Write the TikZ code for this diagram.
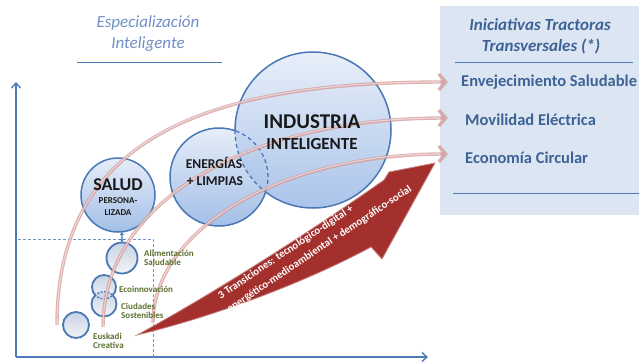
\documentclass[tikz,border=0pt]{standalone}
\usepackage{fontspec}
\setmainfont{Carlito}
\usetikzlibrary{arrows.meta}
\definecolor{axisblue}{HTML}{4F7AB8}
\definecolor{titleblue}{HTML}{6F8FC6}
\definecolor{darkblue}{HTML}{3D6296}
\definecolor{boxfill}{HTML}{DCE6F2}
\definecolor{circtop}{HTML}{E6EDF8}
\definecolor{circbot}{HTML}{A3BFE8}
\definecolor{smalltop}{HTML}{C9D3E4}
\definecolor{smallbot}{HTML}{F2F3F6}
\definecolor{borderblue}{HTML}{4A78B4}
\definecolor{olivetxt}{HTML}{5C7030}
\definecolor{arcpink}{HTML}{D49896}
\definecolor{arcinner}{HTML}{F6E6E6}
\definecolor{arrowred}{HTML}{A3302C}
\definecolor{arrowedge}{HTML}{C98280}
\begin{document}
\begin{tikzpicture}[x=1pt,y=-1pt,
  bigcirc/.style={circle, inner sep=0pt, top color=circtop, bottom color=circbot},
  smallcirc/.style={circle, inner sep=0pt, top color=smalltop, bottom color=smallbot},
  bord/.style={draw=borderblue, line width=1.5pt},
  sbord/.style={draw=borderblue, line width=1.8pt},
  dbord/.style={draw=borderblue, line width=1.3pt, dash pattern=on 4pt off 3pt},
  circtext/.style={font=\bfseries, text=black!90, inner sep=0pt},
  smalllbl/.style={font=\bfseries\fontsize{9}{10}\selectfont, text=olivetxt, anchor=west, inner sep=0pt, align=left},
  ititle/.style={font=\itshape\fontsize{17}{20}\selectfont, text=titleblue, inner sep=0pt},
  rtitle/.style={font=\bfseries\itshape\fontsize{17}{20}\selectfont, text=darkblue, inner sep=0pt},
  itemtxt/.style={font=\bfseries\fontsize{16.5}{19}\selectfont, text=darkblue, anchor=west, inner sep=0pt},
  rule/.style={draw=axisblue, line width=1pt},
  axisline/.style={draw=axisblue, line width=1.4pt, -{Straight Barb[length=5pt,width=9pt]}},
  dashline/.style={draw=axisblue!80, line width=1pt, dash pattern=on 3pt off 2pt},
  arcst/.style={draw=arcpink, line width=3.4pt, draw opacity=0.75, -{Straight Barb[length=7pt,width=16pt]}},
  arcin/.style={draw=arcinner, line width=1.1pt, draw opacity=0.7},
  arrowtxt/.style={font=\bfseries\fontsize{10.8}{12}\selectfont, text=white, inner sep=0pt, anchor=west, rotate=33.7},
  conn/.style={draw=borderblue, line width=1.2pt, {Latex[length=3pt,width=4.5pt]}-{Latex[length=3pt,width=4.5pt]}}
]
\useasboundingbox (0,0) rectangle (639,362);

% right box
\node[rectangle, fill=boxfill, minimum width=199pt, minimum height=209pt, anchor=north west, inner sep=0pt] (box) at (440,6) {};

% titles
\node[ititle] (sp1) at (148,23) {Especialización};
\node[ititle] (sp2) at (148,44) {Inteligente};
\draw[rule] (77,62) -- (222,62);

\node[rtitle] (it1) at (540,25) {Iniciativas Tractoras};
\node[rtitle] (it2) at (541,46) {Transversales (*)};
\draw[rule] (455,62) -- (633,62);
\node[itemtxt] (env) at (461,82) {Envejecimiento Saludable};
\node[itemtxt] (mov) at (465,120) {Movilidad Eléctrica};
\node[itemtxt] (eco) at (465,158) {Economía Circular};
\draw[rule] (453,193) -- (639,193);

% axes
\coordinate (origin) at (16,357);
\coordinate (ytop) at (16,82);
\coordinate (xend) at (428,357);
\draw[axisline] (origin) -- (ytop);
\draw[axisline] (origin) -- (xend);
\draw[dashline] (18,239) -- (153,239) -- (153,357);

% big circles
\node[bigcirc, minimum size=74pt] (salud) at (118,195) {};
\node[bigcirc, minimum size=98pt] (ener) at (219,177) {};
\node[bigcirc, minimum size=156pt, fill opacity=0.92] (ind) at (313,130) {};
\draw[bord] (salud.center) circle (37pt);
\begin{scope}[even odd rule]
  \clip (-20,-20) rectangle (660,380) (ind.center) circle (78pt);
  \draw[bord] (ener.center) circle (49pt);
\end{scope}
\begin{scope}[even odd rule]
  \clip (-20,-20) rectangle (660,380) (ener.center) circle (49pt);
  \draw[bord] (ind.center) circle (78pt);
\end{scope}
\begin{scope}
  \clip (ind.center) circle (78pt);
  \draw[dbord] (ener.center) circle (49pt);
\end{scope}
\begin{scope}
  \clip (ener.center) circle (49pt);
  \draw[dbord] (ind.center) circle (78pt);
\end{scope}

% small circles
\node[smallcirc, minimum size=31pt] (alim) at (122,258) {};
\node[smallcirc, minimum size=24pt] (ecoi) at (104,287) {};
\node[smallcirc, minimum size=25pt] (ciud) at (104,304) {};
\node[smallcirc, minimum size=26pt] (eusk) at (76,325) {};
\draw[sbord] (alim.center) circle (15.5pt);
\draw[sbord] (eusk.center) circle (13pt);
\begin{scope}[even odd rule]
  \clip (-20,-20) rectangle (660,380) (ciud.center) circle (12.5pt);
  \draw[sbord] (ecoi.center) circle (12pt);
\end{scope}
\begin{scope}[even odd rule]
  \clip (-20,-20) rectangle (660,380) (ecoi.center) circle (12pt);
  \draw[sbord] (ciud.center) circle (12.5pt);
\end{scope}
\begin{scope}
  \clip (ciud.center) circle (12.5pt);
  \draw[draw=borderblue, line width=1.3pt, dash pattern=on 2pt off 1.5pt] (ecoi.center) circle (12pt);
\end{scope}
\begin{scope}
  \clip (ecoi.center) circle (12pt);
  \draw[draw=borderblue, line width=1.3pt, dash pattern=on 2pt off 1.5pt] (ciud.center) circle (12.5pt);
\end{scope}
\draw[conn] (salud.-84) -- (alim.north);

% pink arcs
\coordinate (a1s) at (57,325);  \coordinate (a1e) at (448,82);
\coordinate (a2s) at (103,327); \coordinate (a2e) at (448,118);
\coordinate (a3s) at (153,323); \coordinate (a3e) at (448,154);
\draw[arcst] (a1s) .. controls (57,130) and (220,82) .. (a1e);
\draw[arcst] (a2s) .. controls (103,200) and (250,118) .. (a2e);
\draw[arcst] (a3s) .. controls (153,230) and (280,154) .. (a3e);
\draw[arcin] (a1s) .. controls (57,130) and (220,82) .. (440,82);
\draw[arcin] (a2s) .. controls (103,200) and (250,118) .. (440,118);
\draw[arcin] (a3s) .. controls (153,230) and (280,154) .. (440,154);

% circle labels
\node[circtext, font=\bfseries\fontsize{18}{20}\selectfont] (t_salud) at (118,185) {SALUD};
\node[circtext, font=\bfseries\fontsize{9}{10}\selectfont] (t_pers) at (118,201) {PERSONA-};
\node[circtext, font=\bfseries\fontsize{9}{10}\selectfont] (t_liz) at (118,213) {LIZADA};
\node[circtext, font=\bfseries\fontsize{13.5}{15}\selectfont] (t_ener) at (214,163) {ENERGÍAS};
\node[circtext, font=\bfseries\fontsize{13.5}{15}\selectfont] (t_limp) at (215,181) {+ LIMPIAS};
\node[circtext, font=\bfseries\fontsize{21}{23}\selectfont] (t_ind) at (312,122) {INDUSTRIA};
\node[circtext, font=\bfseries\fontsize{17}{19}\selectfont] (t_intel) at (312,144) {INTELIGENTE};

\node[smalllbl] (l_alim) at (144,258) {Alimentación\\[-1pt]Saludable};
\node[smalllbl] (l_ecoi) at (119,289) {Ecoinnovación};
\node[smalllbl] (l_ciud) at (121,310.5) {Ciudades\\[-1pt]Sostenibles};
\node[smalllbl] (l_eusk) at (93,340.5) {Euskadi\\[-1pt]Creativa};

% red arrow
\fill[arrowred, draw=arrowedge, line width=0.8pt]
  (137,335) .. controls (220,290) and (320,225) .. (384,180)
  -- (389,172) -- (435,163) -- (382,259) -- (371,247)
  .. controls (310,280) and (220,315) .. cycle;
\node[arrowtxt] (tr1) at (219,297) {3 Transiciones: tecnológico-digital +};
\node[arrowtxt] (tr2) at (228,310) {energético-medioambiental + demográfico-social};
\end{tikzpicture}
\end{document}
